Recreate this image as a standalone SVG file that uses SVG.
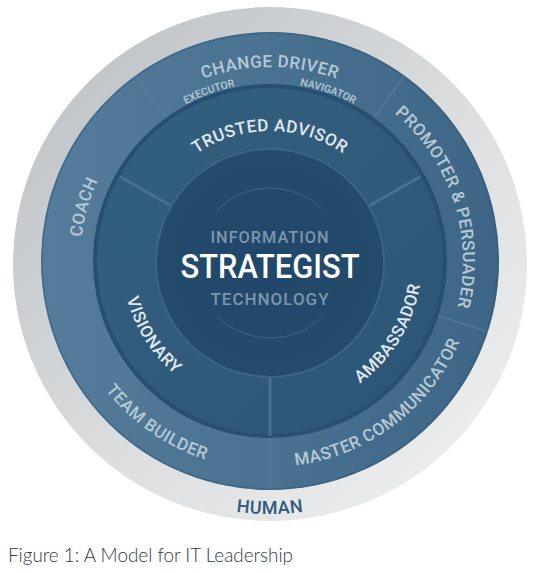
<svg xmlns="http://www.w3.org/2000/svg" width="539" height="574" viewBox="0 0 539 574">
  <style>
    .lbl{font-family:Roboto,"DejaVu Sans",sans-serif;font-weight:500;}
    .outer{fill:#b7c8d5;font-size:17px;letter-spacing:0.5px;}
    .small{fill:#b7c8d5;font-size:10.5px;}
    .mid{fill:#e1e9ef;font-size:17px;letter-spacing:0.5px;}
    .core{fill:#7c96ab;font-size:17px;letter-spacing:1px;}
    .div-o{stroke:#5a7f9c;stroke-width:1.5;opacity:0.7;}
    .div-m{stroke:#48708f;stroke-width:3;}
  </style>
  <defs>
    <linearGradient id="gGray" x1="0" y1="0" x2="1" y2="1">
      <stop offset="0" stop-color="#b9bec1"/>
      <stop offset="0.55" stop-color="#dcdedf"/>
      <stop offset="1" stop-color="#f2f2f2"/>
    </linearGradient>
    <linearGradient id="gOuter" x1="0" y1="0" x2="1" y2="0">
      <stop offset="0" stop-color="#557c9b"/>
      <stop offset="1" stop-color="#3d6686"/>
    </linearGradient>
    <linearGradient id="gMid" x1="0" y1="0" x2="1" y2="1">
      <stop offset="0" stop-color="#34607f"/>
      <stop offset="1" stop-color="#2b5575"/>
    </linearGradient>
    <radialGradient id="gCore" cx="0.5" cy="0.5" r="0.5">
      <stop offset="0" stop-color="#21476a"/>
      <stop offset="1" stop-color="#234b6b"/>
    </radialGradient>
    <path id="pChange" d="M76,261 A194,194 0 0 1 464,261"/>
    <path id="pSmall" d="M92,261 A178,178 0 0 1 448,261"/>
    <path id="pTrusted" d="M140,261 A130,130 0 0 1 400,261"/>
    <path id="pRight" d="M270,68 A193,193 0 0 1 270,454"/>
    <path id="pLeft" d="M270,451 A190,190 0 0 1 270,71"/>
    <path id="pVis" d="M122,261 A148,148 0 0 0 418,261"/>
    <path id="pAmb" d="M118,261 A152,152 0 0 0 422,261"/>
    <path id="pTeam" d="M61,261 A209,209 0 0 0 479,261"/>
    <path id="pMaster" d="M64,261 A206,206 0 0 0 476,261"/>
    <path id="pHuman" d="M18,262 A252,252 0 0 0 522,262"/>
  </defs>
  <rect width="539" height="574" fill="#ffffff"/>

  <g id="ring-human">
    <circle cx="270" cy="264" r="257" fill="url(#gGray)"/>
    <text class="lbl" font-size="18" fill="#2e5a7c" letter-spacing="0.5"><textPath href="#pHuman" startOffset="50%" text-anchor="middle">HUMAN</textPath></text>
  </g>

  <g id="ring-outer">
    <circle cx="270" cy="261" r="229" fill="url(#gOuter)"/>
    <circle cx="270" cy="261" r="228" fill="none" stroke="#2f5777" stroke-width="1.5" opacity="0.5"/>
  </g>

  <g id="ring-middle">
    <circle cx="270" cy="261" r="177" fill="#284f6f"/>
    <circle cx="270" cy="261" r="173" fill="url(#gMid)"/>
  </g>

  <g id="core">
    <circle cx="270" cy="263" r="115" fill="#3a6584"/>
    <circle cx="270" cy="263" r="113" fill="url(#gCore)"/>
    <path d="M217,210 A75,75 0 0 1 323,210" fill="none" stroke="#3e6584" stroke-width="1"/>
    <path d="M217,316 A75,75 0 0 0 323,316" fill="none" stroke="#3e6584" stroke-width="1"/>
  </g>

  <g id="connectors">
    <line class="div-o" x1="270" y1="438" x2="270" y2="490"/>
    <line class="div-o" x1="101.7" y1="315.7" x2="52.2" y2="331.8"/>
    <line class="div-o" x1="166" y1="117.8" x2="135.4" y2="75.7"/>
    <line class="div-o" x1="374" y1="117.8" x2="404.6" y2="75.7"/>
    <line class="div-o" x1="438.3" y1="315.7" x2="487.8" y2="331.8"/>
    <line class="div-m" x1="270" y1="378" x2="270" y2="436"/>
    <line class="div-m" x1="170.4" y1="205.5" x2="119.7" y2="176.5"/>
    <line class="div-m" x1="369.6" y1="205.5" x2="420.3" y2="176.5"/>
  </g>

  <g id="n-change-driver">
    <text class="lbl outer" font-size="19"><textPath href="#pChange" startOffset="50%" text-anchor="middle">CHANGE DRIVER</textPath></text>
    <text class="lbl small"><textPath href="#pSmall" startOffset="39%" text-anchor="middle">EXECUTOR</textPath></text>
    <text class="lbl small"><textPath href="#pSmall" startOffset="60.5%" text-anchor="middle">NAVIGATOR</textPath></text>
  </g>
  <g id="n-promoter">
    <text class="lbl outer"><textPath href="#pRight" startOffset="40%" text-anchor="middle">PROMOTER &amp; PERSUADER</textPath></text>
  </g>
  <g id="n-coach">
    <text class="lbl outer"><textPath href="#pLeft" startOffset="59%" text-anchor="middle">COACH</textPath></text>
  </g>
  <g id="n-team-builder">
    <text class="lbl outer"><textPath href="#pTeam" startOffset="30.6%" text-anchor="middle">TEAM BUILDER</textPath></text>
  </g>
  <g id="n-master-communicator">
    <text class="lbl outer"><textPath href="#pMaster" startOffset="70.6%" text-anchor="middle">MASTER COMMUNICATOR</textPath></text>
  </g>
  <g id="n-trusted-advisor">
    <text class="lbl mid"><textPath href="#pTrusted" startOffset="50%" text-anchor="middle">TRUSTED ADVISOR</textPath></text>
  </g>
  <g id="n-visionary">
    <text class="lbl mid"><textPath href="#pVis" startOffset="18%" text-anchor="middle">VISIONARY</textPath></text>
  </g>
  <g id="n-ambassador">
    <text class="lbl mid"><textPath href="#pAmb" startOffset="82.6%" text-anchor="middle">AMBASSADOR</textPath></text>
  </g>
  <g id="n-strategist">
    <text class="lbl core" x="270" y="243" text-anchor="middle" textLength="119" lengthAdjust="spacingAndGlyphs">INFORMATION</text>
    <text class="lbl" x="270" y="278" text-anchor="middle" font-size="33" fill="#ffffff" textLength="179" lengthAdjust="spacingAndGlyphs">STRATEGIST</text>
    <text class="lbl core" x="270" y="305" text-anchor="middle" textLength="119" lengthAdjust="spacingAndGlyphs">TECHNOLOGY</text>
  </g>

  <text id="caption" x="8" y="562" font-family="Lato,'Open Sans',sans-serif" font-weight="300" font-size="20" fill="#2f3a45" textLength="285" lengthAdjust="spacingAndGlyphs">Figure 1: A Model for IT Leadership</text>
</svg>
